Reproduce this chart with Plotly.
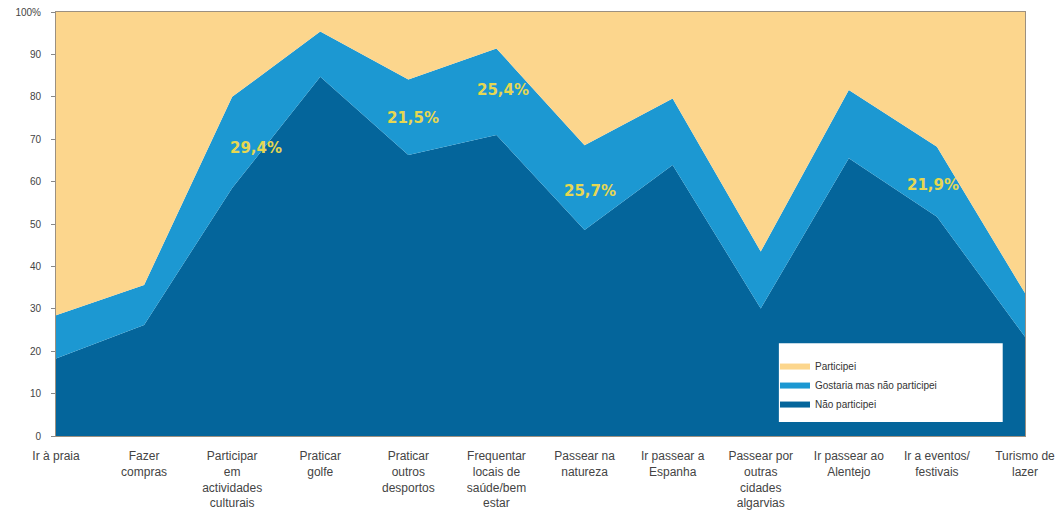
import plotly.graph_objects as go

categories = [
    "Ir à praia",
    "Fazer<br>compras",
    "Participar<br>em<br>actividades<br>culturais",
    "Praticar<br>golfe",
    "Praticar<br>outros<br>desportos",
    "Frequentar<br>locais de<br>saúde/bem<br>estar",
    "Passear na<br>natureza",
    "Ir passear a<br>Espanha",
    "Passear por<br>outras<br>cidades<br>algarvias",
    "Ir passear ao<br>Alentejo",
    "Ir a eventos/<br>festivais",
    "Turismo de<br>lazer",
]

nao_participei = [18.3, 26.2, 58.5, 84.7, 66.3, 71.0, 48.6, 63.9, 30.1, 65.5, 51.7, 23.4]
gostaria = [10.2, 9.4, 21.5, 10.7, 17.8, 20.4, 20.0, 15.7, 13.4, 16.1, 16.5, 10.3]
participei = [71.5, 64.4, 20.0, 4.6, 15.9, 8.6, 31.4, 20.4, 56.5, 18.4, 31.8, 66.3]

# highlighted labels: (category index, y value, text)
label_idx = [2.27, 4.05, 5.07, 6.06, 9.95]
label_y = [67.9, 75.0, 81.6, 57.9, 59.2]
label_txt = ["29,4%", "21,5%", "25,4%", "25,7%", "21,9%"]

y_ticks = [0, 10, 20, 30, 40, 50, 60, 70, 80, 90, 100]
y_ticktext = ["0", "10", "20", "30", "40", "50", "60", "70", "80", "90", "100%"]

c_dark = "#04659B"
c_light = "#1C98D2"
c_gold = "#FCD68D"

fig = go.Figure()
fig.add_trace(go.Scatter(x=categories, y=nao_participei, name="Não participei",
                         stackgroup="s", mode="none", fillcolor=c_dark))
fig.add_trace(go.Scatter(x=categories, y=gostaria, name="Gostaria mas não participei",
                         stackgroup="s", mode="none", fillcolor=c_light))
fig.add_trace(go.Scatter(x=categories, y=participei, name="Participei",
                         stackgroup="s", mode="none", fillcolor=c_gold))

for xi, yi, t in zip(label_idx, label_y, label_txt):
    fig.add_annotation(x=xi, y=yi, text="<b>" + t + "</b>", showarrow=False,
                       font=dict(family="DejaVu Sans", size=15, color="#E6D752"))

fig.add_shape(type="rect", xref="paper", yref="paper", x0=0.746, x1=0.977, y0=0.033, y1=0.219,
              fillcolor="white", line=dict(width=0), layer="above")

fig.update_layout(
    width=1062, height=513,
    margin=dict(l=56, r=37, t=12, b=77, autoexpand=False),
    paper_bgcolor="white", plot_bgcolor="white",
    font=dict(family="Liberation Sans, Arial", size=10, color="#444"),
    showlegend=True,
    legend=dict(x=0.742, y=0.198, xanchor="left", yanchor="top", traceorder="reversed",
                bgcolor="rgba(0,0,0,0)", font=dict(size=10, color="#333"),
                tracegroupgap=0, itemwidth=30),
    xaxis=dict(showgrid=False, zeroline=False, showline=True, linecolor="#9c9080",
               mirror=True, ticks="", range=[0, 11], tickfont=dict(size=12, color="#444"),
               tickangle=0, ticklabelstandoff=9, automargin=False),
    yaxis=dict(range=[0, 100], tickvals=y_ticks, ticktext=y_ticktext, showgrid=False,
               zeroline=False, showline=True, linecolor="#9c9080", mirror=True,
               ticks="outside", ticklen=4, tickcolor="#888", ticklabelstandoff=8,
               tickfont=dict(size=10, color="#444"), automargin=False),
)

fig.write_html("out.html")
